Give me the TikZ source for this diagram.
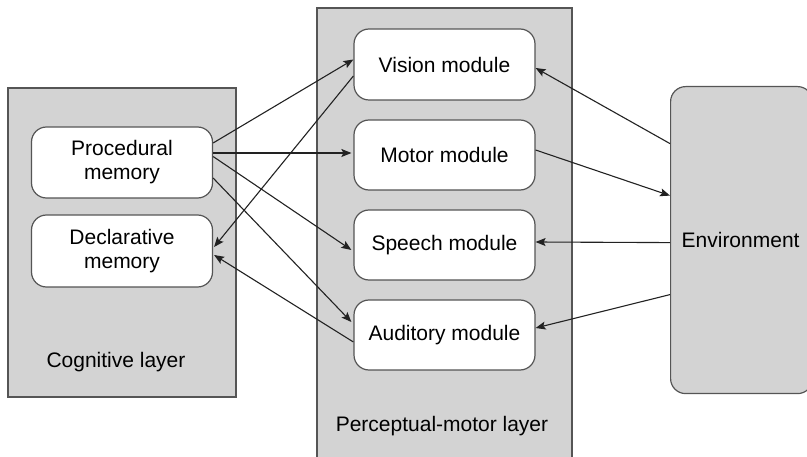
\documentclass[tikz,border=0pt]{standalone}
\usepackage{fontspec}
\setmainfont{Liberation Sans}
\usetikzlibrary{arrows.meta,calc}
\definecolor{layergray}{HTML}{D3D3D3}
\definecolor{edgegray}{HTML}{555555}
\definecolor{arrowcol}{HTML}{222222}
\begin{document}
\begin{tikzpicture}[x=1pt,y=-1pt,
  layer/.style={draw=edgegray,fill=layergray,line width=1.2pt},
  module/.style={draw=edgegray,fill=white,line width=1.2pt,rounded corners=15pt,
    minimum width=181pt,minimum height=71pt,inner sep=0pt,align=center,
    font=\fontsize{21}{24}\selectfont},
  lbl/.style={font=\fontsize{21}{24}\selectfont,inner sep=0pt},
  conn/.style={draw=arrowcol,line width=1.1pt,-{Stealth[length=10pt,width=8pt,inset=2pt]}}]
\useasboundingbox (0,0) rectangle (807,457);
\begin{scope}
\clip (0,0) rectangle (807,457);
% layers
\draw[layer] (317,470) -- (317,8) -- (572,8) -- (572,470);
\draw[layer] (8,88) rectangle (236,397);
\node[layer,rounded corners=15pt,minimum width=142pt,minimum height=307pt,inner sep=0pt,
  anchor=north west,lbl] (env) at (670,86) {\hspace*{-2pt}Environment};
\end{scope}
\node[lbl] (cogl) at (116,362) {Cognitive layer};
\node[lbl] (pml) at (442,426) {Perceptual-motor layer};
% modules
\node[module] (proc) at (122,162.5) {Procedural\\memory};
\node[module,minimum height=72pt] (decl) at (122,251) {Declarative\\memory};
\node[module] (vision) at (444.5,64.5) {Vision module};
\node[module,minimum height=70pt] (motor) at (444.5,155) {Motor module};
\node[module,minimum height=70pt] (speech) at (444.5,245) {Speech module};
\node[module,minimum height=70pt] (aud) at (444.5,335) {Auditory module};
% connectors
\draw[conn] ([yshift=19.5pt]proc.east) -- ([yshift=5pt]vision.west);
\draw[conn] ([yshift=9.5pt]proc.east) -- ([yshift=2pt,xshift=-2pt]motor.west);
\draw[conn] ([yshift=6pt]proc.east) -- ([yshift=-5pt,xshift=-2pt]speech.west);
\draw[conn] ([yshift=-15.5pt]proc.east) -- ([yshift=13pt,xshift=-2pt]aud.west);
\draw[conn] ([yshift=-11.5pt]vision.west) -- ([yshift=4pt,xshift=1pt]decl.east);
\draw[conn] ([yshift=-7pt]aud.west) -- ([yshift=-4pt,xshift=1pt]decl.east);
\draw[conn] ([yshift=96.5pt]env.west) -- ([yshift=-3.5pt]vision.east);
\draw[conn] ([yshift=5pt]motor.east) -- ([yshift=44.5pt]env.west);
\draw[conn] ([yshift=-2.5pt]env.west) -- ([yshift=3pt]speech.east);
\draw[conn] ([yshift=-54.5pt]env.west) -- ([yshift=7pt]aud.east);
\end{tikzpicture}
\end{document}
